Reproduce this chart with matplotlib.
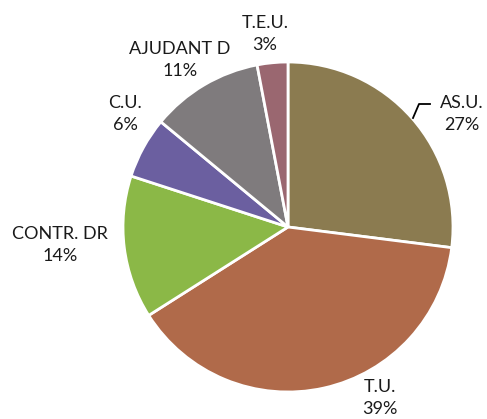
import matplotlib.pyplot as plt

labels = ['AS.U.', 'T.U.', 'CONTR. DR', 'C.U.', 'AJUDANT D', 'T.E.U.']
values = [27, 39, 14, 6, 11, 3]
colors = ['#8B7B50', '#B06A4A', '#8BB847', '#6B5FA0', '#7F7B7D', '#9A6770']

# label centres in pixels (x, y from top)
label_px = [(462, 114), (380, 398), (60, 245), (125, 114), (180, 60), (265, 34)]

W, H = 487, 419
cx, cy, R = 288, 227, 165

plt.rcParams['font.family'] = ['Lato', 'DejaVu Sans']
fig = plt.figure(figsize=(W / 100, H / 100), dpi=100)
ax = fig.add_axes([0, 0, 1, 1])
ax.pie(values, colors=colors, startangle=90, counterclock=False,
       wedgeprops=dict(edgecolor='white', linewidth=2))
ax.set_xlim(-cx / R, (W - cx) / R)
ax.set_ylim(-(H - cy) / R, cy / R)
ax.set_aspect('equal')
ax.axis('off')

def to_data(px, py):
    return (px - cx) / R, (cy - py) / R

for lab, v, (px, py) in zip(labels, values, label_px):
    x, y = to_data(px, py)
    ax.text(x, y, f'{lab}\n{v}%', ha='center', va='center', fontsize=13,
            linespacing=1.5, color='#1a1a1a')

# leader line for AS.U.
pts = [to_data(413, 118), to_data(419, 104), to_data(430, 104)]
ax.plot([p[0] for p in pts], [p[1] for p in pts], color='black', lw=1.3)

fig.savefig('out.png', dpi=100)
